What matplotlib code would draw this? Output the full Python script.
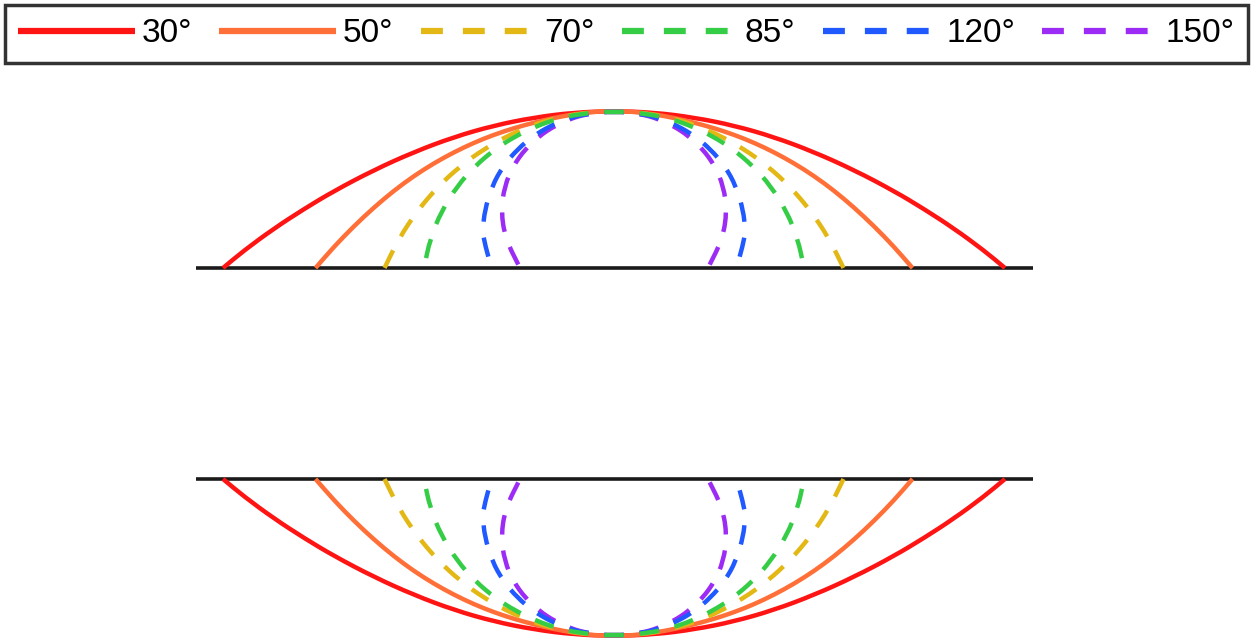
import numpy as np
import matplotlib
matplotlib.use("Agg")
import matplotlib.pyplot as plt
from matplotlib.lines import Line2D
from matplotlib.path import Path
from matplotlib.patches import PathPatch

# Drop profiles for several contact angles (same apex height).
# Each half profile: horizontal distance from the axis vs. depth below the apex.
angle_labels = ["30°", "50°", "70°", "85°", "120°", "150°"]

depth_30 = [0, 1.5, 6.5, 14.5, 26, 41, 59, 80, 98, 117.5, 139.5, 157]
width_30 = [0, 40, 80, 120, 160, 200, 240, 280, 310, 340, 370, 391]

depth_50 = [0, 0.8, 3.2, 6.9, 11.6, 17.1, 23.7, 31.7, 41.2, 52.2, 64.9, 79.6, 96.4, 115.1, 135.7, 157]
width_50 = [0, 20, 40, 60, 80, 100, 120, 140, 160, 180, 200, 220, 240, 260, 280, 298.5]

depth_70 = [0, 3, 8, 15, 25, 38, 55, 75, 100, 128, 157]
width_70 = [0, 37.9, 61.4, 83.6, 106.8, 129.9, 153.6, 175.5, 196.9, 215.4, 229.5]

depth_85 = [0, 3, 8, 15, 25, 38, 55, 75, 100, 128, 157]
width_85 = [0, 35.2, 57.1, 77.3, 98.3, 118.8, 139.0, 156.7, 172.5, 183.9, 190]

depth_120 = [0, 3, 8, 15, 25, 38, 55, 75, 100, 118, 128, 157]
width_120 = [0, 29.3, 47.4, 63.9, 80.6, 96.3, 110.8, 122.0, 129.4, 131, 130.5, 122.5]

depth_150 = [0, 3, 8, 15, 25, 38, 55, 75, 100, 128, 157]
width_150 = [0, 27.5, 44.3, 59.5, 74.7, 88.7, 100.9, 109.4, 113, 108.5, 94]

profiles = [(depth_30, width_30), (depth_50, width_50), (depth_70, width_70),
            (depth_85, width_85), (depth_120, width_120), (depth_150, width_150)]

colors = ["#ff1414", "#ff6f37", "#e3b714", "#35cd45", "#1f59ff", "#9c2cf5"]
dashed = [False, False, True, True, True, True]
layer = [2.0, 2.1, 2.2, 2.6, 2.4, 2.3]

W, H = 1254, 642
center_x = 614
top_base_y = 268
bottom_base_y = 479
surface_x = (196, 1033)
curve_lw = 3.2
dash_on, dash_off = 4.4, 3.6


def smooth_path(xs, ys):
    """Quadratic-Bezier path through the midpoints, using the points as controls."""
    pts = np.column_stack([xs, ys])
    verts = [pts[0], 0.5 * (pts[0] + pts[1])]
    codes = [Path.MOVETO, Path.LINETO]
    for i in range(1, len(pts) - 1):
        verts += [pts[i], 0.5 * (pts[i] + pts[i + 1])]
        codes += [Path.CURVE3, Path.CURVE3]
    verts.append(pts[-1])
    codes.append(Path.LINETO)
    return Path(np.array(verts), codes)


def path_length(path):
    t = np.linspace(0, 1, 40)
    total = 0.0
    for seg, _ in path.iter_bezier():
        p = seg(t)
        total += np.hypot(*np.diff(p, axis=0).T).sum()
    return total


fig = plt.figure(figsize=(W / 100, H / 100), dpi=100)
ax = fig.add_axes([0, 0, 1, 1])
ax.set_xlim(0, W)
ax.set_ylim(H, 0)
ax.axis("off")

px_to_pt = 72 / fig.dpi
for base_y, sign in ((top_base_y, -1), (bottom_base_y, 1)):
    ax.plot(surface_x, [base_y, base_y], color="#1a1a1a", lw=2.6,
            solid_capstyle="butt", zorder=1)
    for (depth, width), col, dsh, z in zip(profiles, colors, dashed, layer):
        depth = np.asarray(depth, float)
        width = np.asarray(width, float)
        rise = depth[-1] - depth                      # height above the surface
        xs = center_x + np.concatenate([-width[::-1], width[1:]])
        ys = base_y + sign * np.concatenate([rise[::-1], rise[1:]])
        path = smooth_path(xs, ys)
        if dsh:
            # phase chosen so a dash sits centred on the apex (symmetric pattern)
            half = path_length(path) * px_to_pt / curve_lw / 2
            offset = (dash_on / 2 - half) % (dash_on + dash_off)
            ls = (offset, (dash_on, dash_off))
        else:
            ls = "-"
        ax.add_patch(PathPatch(path, fill=False, edgecolor=col, lw=curve_lw,
                               linestyle=ls, capstyle="butt",
                               joinstyle="round", zorder=z))

handles = []
for col, dsh in zip(colors, dashed):
    ls = (0, (3.5, 3.2)) if dsh else "-"
    handles.append(Line2D([], [], color=col, lw=4.5, linestyle=ls,
                          solid_capstyle="butt"))

leg = ax.legend(handles, angle_labels, ncol=6, loc="upper left",
                bbox_to_anchor=(5 / W, 1 - 63 / H, 1243 / W, 58 / H),
                mode="expand", frameon=True, fancybox=False,
                handlelength=3.5, handletextpad=0.2, borderpad=0.4,
                borderaxespad=0, prop={"family": "Liberation Sans", "size": 24})
leg.get_frame().set_edgecolor("black")
leg.get_frame().set_linewidth(2.5)

fig.savefig("out.png", dpi=100)
